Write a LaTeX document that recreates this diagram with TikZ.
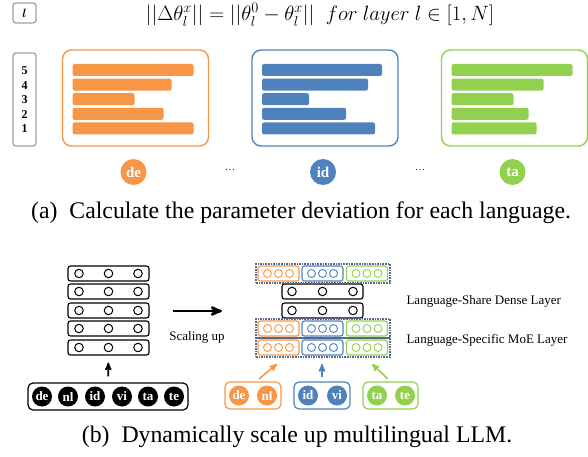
\documentclass[tikz,border=0pt]{standalone}
\usepackage{amsmath}
\usepackage{fontspec}
\setmainfont{Liberation Serif}
\usetikzlibrary{arrows, positioning}

\definecolor{deorange}{HTML}{F79646}
\definecolor{idblue}{HTML}{4F81BD}
\definecolor{tagreen}{HTML}{92D050}
\definecolor{moeedge}{RGB}{88,104,140}

\tikzset{
  idxbox/.style={draw=gray!75, rounded corners=3pt, line width=1.3pt},
  panel/.style={draw=#1, rounded corners=9pt, line width=1.4pt,
    minimum width=146pt, minimum height=96pt},
  langdot/.style={circle, fill=#1, text=white, inner sep=0pt,
    minimum size=26pt, font=\fontsize{15}{15}\selectfont\bfseries},
  tokdot/.style={circle, fill=#1, text=white, inner sep=0pt,
    minimum size=20pt, font=\fontsize{13}{13}\selectfont\bfseries},
  layer/.style={draw, rounded corners=2.5pt, line width=1.1pt,
    minimum width=81pt, minimum height=15pt},
  unit/.style={circle, draw, line width=1pt, inner sep=0pt, minimum size=8.5pt},
  expert/.style={draw=#1, rounded corners=2.5pt, line width=1.1pt,
    minimum width=41pt, minimum height=15pt},
  cell/.style={circle, draw=#1, line width=0.9pt, inner sep=0pt, minimum size=8pt},
  moegroup/.style={draw=moeedge, densely dotted, line width=1.6pt,
    minimum width=134pt, minimum height=18.5pt},
  tokbox/.style={draw=#1, rounded corners=5pt, line width=1.2pt,
    minimum height=27pt},
  note/.style={font=\fontsize{13}{14}\selectfont},
  caption/.style={font=\fontsize{23.8}{25}\selectfont}
}

\begin{document}
\begin{tikzpicture}[x=1pt, y=-1pt, >=stealth']
\useasboundingbox (0,0) rectangle (588,457);

% (a) layer index and the deviation formula
  \node[idxbox, minimum width=23pt, minimum height=20pt] (lidx) at (24.5,13)
       {\fontsize{13}{13}\selectfont$\boldsymbol{l}$};
  \node (formula) at (320,15) {\fontsize{20.5}{21}\selectfont
       $||\Delta\theta_l^x|| = ||\theta_l^0 - \theta_l^x||\;\; for\ layer\ l \in [1,N]$};
  \node[idxbox, minimum width=23pt, minimum height=93pt] (layers) at (24.5,99.5) {};
  \foreach \n/\y in {5/71,4/85.5,3/100,2/114.5,1/128.5}
    \node[font=\fontsize{12}{12}\selectfont\bfseries] (num\n) at (24.5,\y) {\n};

% (a) one panel of per-layer deviations for each language
  \foreach \cx/\col/\lang/\lens in {135.5/deorange/de/{121,99,62,91,121},
                                    325/idblue/id/{120,106,47,84,113},
                                    514.5/tagreen/ta/{121,92,62,77,85}} {
    \node[panel=\col] (p\lang) at (\cx,98) {};
    \foreach \w [count=\i] in \lens
      \fill[\col, rounded corners=2pt] (\cx-63, 49.4+14.6*\i) rectangle ++(\w,12);
    \node[langdot=\col] (c\lang) at (\cx-2,172) {\lang};
  }
  \node (gap1) at (230,170) {\dots};
  \node (gap2) at (420,170) {\dots};

  \node[caption] (capa) at (301,213) {(a)\enspace Calculate the parameter deviation for each language.};

% (b) dense model before scaling
  \foreach \y [count=\i] in {273.5,291.5,310.5,328.5,347.5} {
    \node[layer] (base\i) at (108.5,\y) {};
    \foreach \dx in {-29.5,0,29.5}
      \node[unit] at (108.5+\dx,\y) {};
  }
  \node[draw, rounded corners=5pt, line width=1.2pt, minimum width=160pt,
        minimum height=27pt] (allin) at (108,396.5) {};
  \foreach \lang/\x in {de/42,nl/68,id/95,vi/122,ta/148,te/174}
    \node[tokdot=black] (t\lang) at (\x,396.5) {\lang};
  \draw[->, line width=1.6pt, shorten <=6pt, shorten >=7pt] (allin) -- (base5);

% (b) scaled model: shared dense layers between language-specific experts
  \node[layer] (dense1) at (322.5,291.5) {};
  \node[layer] (dense2) at (322.5,310.5) {};
  \foreach \y in {291.5,310.5}
    \foreach \dx in {-30.5,0,30.5}
      \node[unit] at (322.5+\dx,\y) {};

  \foreach \y/\k in {273.5/1,328.5/2,347.5/3} {
    \node[moegroup] (moe\k) at (323,\y) {};
    \foreach \cx/\col/\lang in {278.5/deorange/de,322.5/idblue/id,367/tagreen/ta} {
      \node[expert=\col] (e\lang\k) at (\cx,\y) {};
      \foreach \dx in {-11,0,11}
        \node[cell=\col] at (\cx+\dx,\y) {};
    }
  }

  \node[note, anchor=west] (sharelbl) at (403,301) {Language-Share Dense Layer};
  \node[note, anchor=west] (moelbl) at (403,340) {Language-Specific MoE Layer};

  \coordinate (from) at (173,311);
  \coordinate (to) at (222,311);
  \draw[->, line width=2.6pt] (from) -- (to);
  \node[note] (scale) at (197,337) {Scaling up};

% (b) routing tokens to their language group
  \node[tokbox=deorange, minimum width=56pt] (gde) at (253,395.5) {};
  \node[tokbox=idblue, minimum width=56pt] (gid) at (322,395.5) {};
  \node[tokbox=tagreen, minimum width=55pt] (gta) at (390.5,395.5) {};
  \foreach \lang/\col/\x in {de/deorange/239,nl/deorange/267,id/idblue/308,
                             vi/idblue/337,ta/tagreen/377,te/tagreen/405}
    \node[tokdot=\col] (r\lang) at (\x,395.5) {\lang};

  \coordinate (hitde) at (277,364);
  \coordinate (hitid) at (322,364);
  \coordinate (hitta) at (372,364);
  \draw[->, deorange, line width=1.6pt, shorten <=4pt] (gde.north) ++(3,0) coordinate (srcde) -- (hitde);
  \draw[->, idblue, line width=1.6pt, shorten <=4pt] (gid.north) -- (hitid);
  \draw[->, tagreen, line width=1.6pt, shorten <=4pt] (gta.north) -- (hitta);

  \node[caption] (capb) at (297,437) {(b)\enspace Dynamically scale up multilingual LLM.};
\end{tikzpicture}
\end{document}
